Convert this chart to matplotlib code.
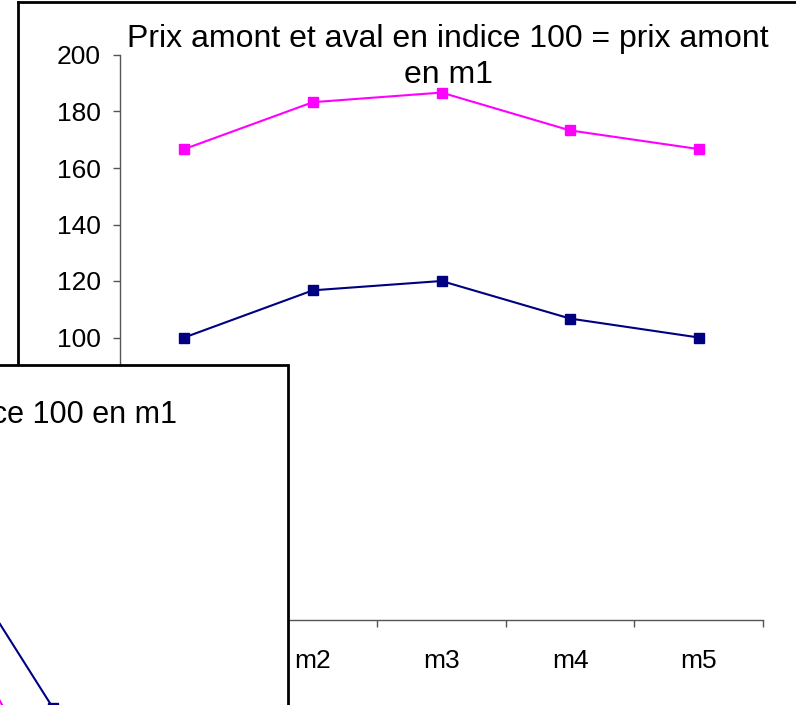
import matplotlib
matplotlib.use("Agg")
import matplotlib.pyplot as plt
from matplotlib.patches import Rectangle
from matplotlib.lines import Line2D

plt.rcParams['font.family'] = ['Liberation Sans', 'DejaVu Sans']

# ---- data ----
months = ["m1", "m2", "m3", "m4", "m5"]
prix_aval = [166.7, 183.3, 186.7, 173.3, 166.7]     # magenta
prix_amont = [100.0, 116.7, 120.0, 106.7, 100.0]    # navy
y_ticks = [0, 20, 40, 60, 80, 100, 120, 140, 160, 180, 200]
title_main = "Prix amont et aval en indice 100 = prix amont\nen m1"

# second (overlapping) chart, only a corner visible
overlay_months = ["m3", "m4"]
overlay_amont = [164.7, 103.2]
overlay_aval = [141.3, 72.4]
title_overlay = "Prix amont et aval en indice 100 en m1"

PINK = "#FF00FF"
NAVY = "#000080"
W, H = 796, 705

fig = plt.figure(figsize=(W / 100, H / 100), dpi=100)


def box(l, t, r, b):
    """pixel box (left, top, right, bottom) -> figure fraction rect"""
    return [l / W, (H - b) / H, (r - l) / W, (b - t) / H]


# outer frame of main chart
fig.add_artist(Line2D([18 / W, 1.0], [(H - 2) / H] * 2, transform=fig.transFigure,
                      color="black", lw=2, zorder=1))
fig.add_artist(Line2D([18 / W] * 2, [(H - 2) / H, 0], transform=fig.transFigure,
                      color="black", lw=2, zorder=1))

# ---- main axes ----
ax = fig.add_axes(box(120, 55, 763, 620))
ax.set_zorder(2)
x = list(range(len(months)))
ax.plot(x, prix_aval, color=PINK, lw=1.5, marker="s", ms=7, mec=PINK, mfc=PINK)
ax.plot(x, prix_amont, color=NAVY, lw=1.5, marker="s", ms=7, mec=NAVY, mfc=NAVY)
ax.set_xlim(-0.5, len(months) - 0.5)
ax.set_ylim(0, 200)
ax.set_yticks(y_ticks)
# labels of the lower ticks are hidden behind the overlapping chart
ax.set_yticklabels([str(v) if v >= 100 else "" for v in y_ticks])
ax.set_xticks([i - 0.5 for i in range(len(months) + 1)])
ax.set_xticklabels([])
ax.set_xticks(x, minor=True)
ax.set_xticklabels(months, minor=True)
ax.tick_params(axis="x", which="major", direction="out", length=5, width=1, color="#555555")
ax.tick_params(axis="x", which="minor", length=0, pad=21, labelsize=19)
ax.tick_params(axis="y", direction="out", length=5, width=1, color="#555555",
               pad=9, labelsize=19)
for s in ["top", "right"]:
    ax.spines[s].set_visible(False)
for s in ["left", "bottom"]:
    ax.spines[s].set_color("#555555")
    ax.spines[s].set_linewidth(1)

fig.text(448 / W, (H - 57) / H, title_main, ha="center", va="center",
         fontsize=23, linespacing=1.3, multialignment="center", zorder=3)

# ---- overlapping second chart ----
fig.add_artist(Rectangle((-20 / W, -20 / H), (288 + 20) / W, (H - 365 + 20) / H,
                         transform=fig.transFigure, facecolor="white", edgecolor="black",
                         lw=2, zorder=5))
ax2 = fig.add_axes(box(-112, 434, 108, 1000))
ax2.set_zorder(6)
ax2.patch.set_visible(False)
xo = list(range(len(overlay_months)))
ax2.plot(xo, overlay_aval, color=PINK, lw=1.5, marker="s", ms=7, mec=PINK, mfc=PINK)
ax2.plot(xo, overlay_amont, color=NAVY, lw=1.5, marker="s", ms=7, mec=NAVY, mfc=NAVY)
ax2.set_xlim(-0.5, len(overlay_months) - 0.5)
ax2.set_ylim(0, 200)
ax2.axis("off")

fig.text(177 / W, (H - 423) / H, title_overlay, ha="right", va="baseline",
         fontsize=22, zorder=7)

fig.savefig("out.png", dpi=100)
